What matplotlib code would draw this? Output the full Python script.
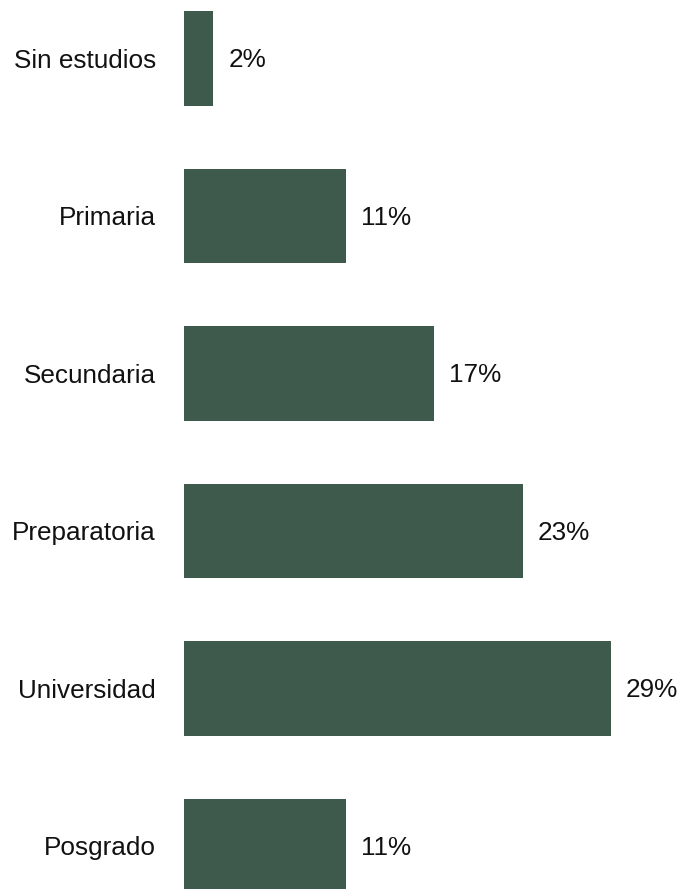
import matplotlib
matplotlib.use("Agg")
import matplotlib.pyplot as plt
from matplotlib import font_manager

categories = ["Sin estudios", "Primaria", "Secundaria", "Preparatoria", "Universidad", "Posgrado"]
values = [2, 11, 17, 23, 29, 11]
value_labels = ["2%", "11%", "17%", "23%", "29%", "11%"]

names = {f.name for f in font_manager.fontManager.ttflist}
fam = ["Liberation Sans Narrow", "Liberation Sans", "DejaVu Sans"]
plt.rcParams["font.family"] = [f for f in fam if f in names] or ["DejaVu Sans"]

W, H = 683, 889
fig = plt.figure(figsize=(W / 100, H / 100), dpi=100)
left = 184
ax = fig.add_axes([left / W, 0, (W - left) / W, 1])
color = "#3e5a4c"
pos = list(range(len(categories)))
ax.barh(pos, values, height=0.6, color=color)
ax.set_ylim(5.273, -0.371)
ax.set_xlim(0, (W - left) / 14.72)
fs = 18.8
for p, v, lab in zip(pos, values, value_labels):
    ax.annotate(lab, (v, p), xytext=(15, -2), textcoords="offset pixels",
                va="center", ha="left", fontsize=fs, color="#111111")
ax.set_yticks(pos)
ax.set_yticklabels(categories, fontsize=fs, color="#111111")
ax.tick_params(axis="y", length=0, pad=28 * 0.72)
ax.set_xticks([])
for s in ax.spines.values():
    s.set_visible(False)
fig.savefig("out.png", dpi=100, facecolor="white")
